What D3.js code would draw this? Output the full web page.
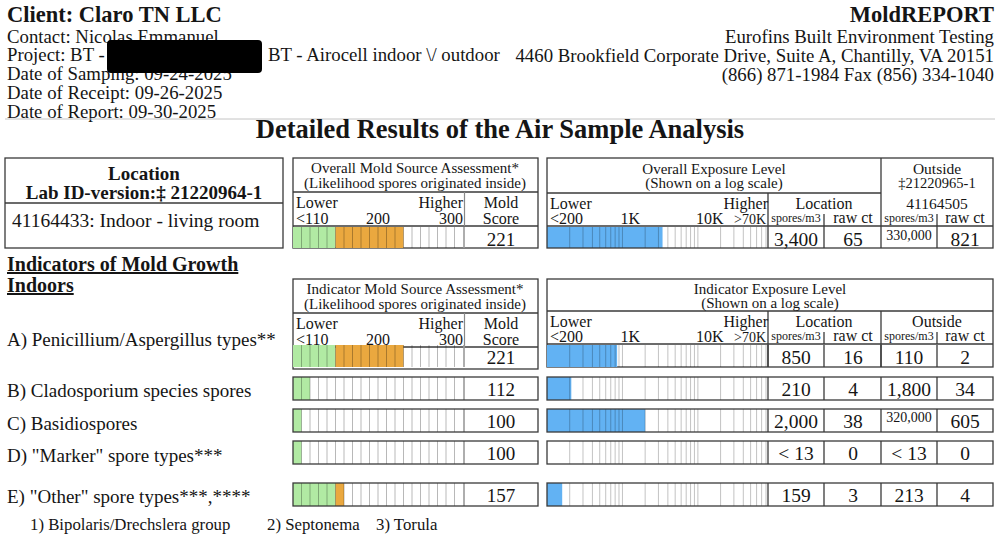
<!DOCTYPE html>
<html><head><meta charset="utf-8">
<script src="https://cdn.jsdelivr.net/npm/d3@7"></script>
<style>
body{margin:0;background:#fff}
svg{display:block}
text{font-family:"Liberation Serif","Times New Roman",serif;fill:#151515}
</style>
</head><body>
<svg id="c" width="1000" height="537"></svg>
<script>
// ---------------- data ----------------
const clientName = "Client: Claro TN LLC";
const headerLeft = ["Contact: Nicolas Emmanuel", "Project: BT -", "Date of Samping: 09-24-2025", "Date of Receipt: 09-26-2025", "Date of Report: 09-30-2025"];
const projectTail = "BT - Airocell indoor \\/ outdoor";
const reportName = "MoldREPORT";
const headerRight = ["Eurofins Built Environment Testing", "4460 Brookfield Corporate Drive, Suite A, Chantilly, VA 20151", "(866) 871-1984 Fax (856) 334-1040"];
const pageTitle = "Detailed Results of the Air Sample Analysis";

const locationHeader = ["Location", "Lab ID-version:\u2021 21220964-1"];
const locationName = "41164433: Indoor - living room";
const outsideHeader = ["Outside", "\u202121220965-1", "41164505"];

const overallScore = 221;
const overallLocSpores = 3400, overallLocRaw = 65, overallOutSpores = 330000, overallOutRaw = 821;

const indicatorNames = ["A) Penicillium/Aspergillus types**", "B) Cladosporium species spores", "C) Basidiospores", "D) \"Marker\" spore types***", "E) \"Other\" spore types***,****"];
const moldScores = [221, 112, 100, 100, 157];
const locSpores = [850, 210, 2000, null, 159];
const locRaw = [16, 4, 38, 0, 3];
const outSpores = [110, 1800, 320000, null, 213];
const outRaw = [2, 34, 605, 0, 4];

const moldTickLabels = [{v: 100, label: "<110"}, {v: 200, label: "200"}, {v: 300, label: "300"}];
const expTickLabels = [{v: 100, label: "<200"}, {v: 1000, label: "1K"}, {v: 10000, label: "10K"}, {v: 90000, label: ">70K"}];
const footnotes = ["1) Bipolaris/Drechslera group", "2) Septonema", "3) Torula"];

// ---------------- layout ----------------
const svg = d3.select("#c");
const GREEN = "#b1eaa3", ORANGE = "#eaa83f", BLUE = "#62b2f3";
const BORDER = "#3a3a3a";
const moldX = d3.scaleLinear().domain([100, 300]).range([293, 463]);
const expX = d3.scaleLog().domain([100, 85000]).range([547, 768]).clamp(true);
const cols = {locSp: 796, locRaw: 853, outSp: 909, outRaw: 965};
const fmt = d3.format(",");

function t(x, y, s, o = {}) {
  const e = svg.append("text").attr("x", x).attr("y", y).text(s)
    .attr("font-size", o.size || 16)
    .attr("text-anchor", o.anchor || "start");
  if (o.bold) e.attr("font-weight", "bold");
  if (o.fill) e.style("fill", o.fill);
  if (o.underline) e.attr("text-decoration", "underline");
  return e;
}
function rect(x, y, w, h) {
  svg.append("rect").attr("x", x).attr("y", y).attr("width", w).attr("height", h)
    .attr("fill", "none").attr("stroke", BORDER).attr("stroke-width", 1.3);
}
function line(x1, y1, x2, y2, c = BORDER, w = 1.3) {
  svg.append("line").attr("x1", x1).attr("y1", y1).attr("x2", x2).attr("y2", y2)
    .attr("stroke", c).attr("stroke-width", w);
}

// ---------------- header ----------------
t(7, 22, clientName, {size: 22.5, bold: true});
headerLeft.forEach((s, i) => t(7, 42.5 + i * 18.8, s, {size: 18.8}));
svg.append("rect").attr("x", 107).attr("y", 40).attr("width", 155).attr("height", 33).attr("rx", 4).attr("fill", "#000");
t(268, 61.3, projectTail, {size: 18.8});
t(994, 22, reportName, {size: 22.5, bold: true, anchor: "end"});
headerRight.forEach((s, i) => t(994, 42.5 + i * 19, s, {size: 18.8, anchor: "end"}));
line(5, 119, 995, 119, "#c4c4c4", 1);
t(500, 138, pageTitle, {size: 26.5, bold: true, anchor: "middle"});

// ---------------- overall section ----------------
rect(5, 158, 278, 90);
line(5, 203, 283, 203);
t(144, 180, locationHeader[0], {size: 19, bold: true, anchor: "middle"});
t(144, 199, locationHeader[1], {size: 19, bold: true, anchor: "middle"});
t(12, 227, locationName, {size: 19.5});

function moldHeader(top, title) {
  rect(293, top, 245, 248 - 158);
  line(293, top + 34, 538, top + 34);
  line(293, top + 68, 538, top + 68);
  line(moldX(300) + 1.5, top + 34, moldX(300) + 1.5, top + 68, "#888", 1.2);
  t(415, top + 15, title, {size: 15, anchor: "middle"});
  t(415, top + 30, "(Likelihood spores originated inside)", {size: 15, anchor: "middle"});
  t(296, top + 50, "Lower", {size: 16});
  t(moldX(300), top + 50, "Higher", {size: 16, anchor: "end"});
  moldTickLabels.forEach((d, i) => {
    const anchor = i === 0 ? "start" : (i === moldTickLabels.length - 1 ? "end" : "middle");
    t(moldX(d.v) + (i === 0 ? 3 : 0), top + 66, d.label, {size: 16, anchor});
  });
  t(501, top + 50, "Mold", {size: 16, anchor: "middle"});
  t(501, top + 66, "Score", {size: 16, anchor: "middle"});
}

function moldBar(top, h, score) {
  const cells = Math.max(1, Math.min(20, Math.floor((score - 100) / 10) + 1));
  const end = 100 + cells * 10;
  svg.append("rect").attr("x", moldX(100)).attr("y", top).attr("width", moldX(Math.min(150, end)) - moldX(100)).attr("height", h).attr("fill", GREEN);
  if (end > 150) svg.append("rect").attr("x", moldX(150)).attr("y", top).attr("width", moldX(end) - moldX(150)).attr("height", h).attr("fill", ORANGE);
  d3.range(110, 300, 10).forEach(v => line(moldX(v), top, moldX(v), top + h, "rgba(0,0,0,0.28)", 1));
  line(moldX(300) + 1, top, moldX(300) + 1, top + h, "#9a9a9a", 1.6);
  t(501, top + 19, score, {size: 19, anchor: "middle"});
}

function expBar(top, h, v) {
  if (v) svg.append("rect").attr("x", expX(100)).attr("y", top).attr("width", expX(v) - expX(100)).attr("height", h).attr("fill", BLUE);
  [100, 1000, 10000].forEach(dec => d3.range(2, 11).forEach(k => {
    const val = k * dec;
    if (val <= 85000) line(expX(val), top, expX(val), top + h, "rgba(0,0,0,0.24)", 1);
  }));
}

function expLabels(top) {
  t(550, top + 16, "Lower", {size: 16});
  t(768, top + 16, "Higher", {size: 16, anchor: "end"});
  expTickLabels.forEach((d, i) => {
    const last = i === expTickLabels.length - 1;
    t(i === 0 ? expX(d.v) + 3 : (last ? 766 : expX(d.v) - 2), top + 31, d.label, {size: last ? 14 : 16, anchor: last ? "end" : "start"});
  });
}

function values(top, ls, lr, os, or) {
  const spTxt = v => v == null ? "< 13" : fmt(v);
  const spOpt = v => (v != null && v >= 100000) ? {size: 14, dy: -6} : {size: 19.5, dy: 0};
  const a = spOpt(ls), b = spOpt(os);
  t(cols.locSp, top + 19 + a.dy, spTxt(ls), {size: a.size, anchor: "middle"});
  t(cols.locRaw, top + 19, lr, {size: 19.5, anchor: "middle"});
  t(cols.outSp, top + 19 + b.dy, spTxt(os), {size: b.size, anchor: "middle"});
  t(cols.outRaw, top + 19, or, {size: 19.5, anchor: "middle"});
}

function valueDividers(top, h) {
  line(768, top, 768, top + h);
  line(824, top, 824, top + h);
  line(881, top, 881, top + h);
  line(937, top, 937, top + h);
}

function subHeaders(y) {
  t(796, y, "spores/m3", {size: 12, anchor: "middle"});
  t(853, y + 1, "raw ct", {size: 16, anchor: "middle"});
  t(909, y, "spores/m3", {size: 12, anchor: "middle"});
  t(965, y + 1, "raw ct", {size: 16, anchor: "middle"});
}

// overall mold
moldHeader(158, "Overall Mold Source Assessment*");
moldBar(227, 21, overallScore);

// overall exposure
expBar(227, 21, overallLocSpores);
rect(547, 158, 446, 90);
line(547, 193, 881, 193);
line(547, 226, 993, 226);
line(881, 158, 881, 248);
line(768, 193, 768, 248);
line(824, 214, 824, 248);
line(937, 214, 937, 248);
t(714, 174, "Overall Exposure Level", {size: 15, anchor: "middle"});
t(714, 188, "(Shown on a log scale)", {size: 15, anchor: "middle"});
t(937, 174, outsideHeader[0], {size: 15.5, anchor: "middle"});
t(937, 188, outsideHeader[1], {size: 14.5, anchor: "middle"});
t(937, 209, outsideHeader[2], {size: 15.5, anchor: "middle"});
expLabels(193);
t(824, 209, "Location", {size: 16, anchor: "middle"});
subHeaders(222);
values(227, overallLocSpores, overallLocRaw, overallOutSpores, overallOutRaw);

// ---------------- indicators ----------------
t(7, 271, "Indicators of Mold Growth", {size: 20, bold: true, underline: true});
t(7, 292, "Indoors", {size: 20, bold: true, underline: true});

moldHeader(279, "Indicator Mold Source Assessment*");
rect(547, 279, 446, 88);
line(547, 311, 993, 311);
line(547, 344, 993, 344);
line(768, 311, 768, 367);
line(881, 311, 881, 367);
line(824, 332, 824, 344);
line(937, 332, 937, 344);
t(770, 294, "Indicator Exposure Level", {size: 15, anchor: "middle"});
t(770, 308, "(Shown on a log scale)", {size: 15, anchor: "middle"});
expLabels(311);
t(824, 327, "Location", {size: 16, anchor: "middle"});
t(937, 327, "Outside", {size: 16, anchor: "middle"});
subHeaders(340);

const rowTops = [345, 377, 409, 441, 483];
const labelBase = [346, 397, 430, 462, 503];
indicatorNames.forEach((name, i) => {
  const top = rowTops[i], h = i === 0 ? 22 : 23;
  t(7, labelBase[i], name, {size: 19});
  moldBar(top, h, moldScores[i]);
  expBar(top, h, locSpores[i]);
  if (i > 0) { rect(293, top, 245, h); rect(547, top, 446, h); }
  valueDividers(top, h);
  values(top, locSpores[i], locRaw[i], outSpores[i], outRaw[i]);
});

// footnotes
const footX = [30, 267, 376];
footnotes.forEach((s, i) => t(footX[i], 530, s, {size: 16.8}));
</script>
</body></html>
